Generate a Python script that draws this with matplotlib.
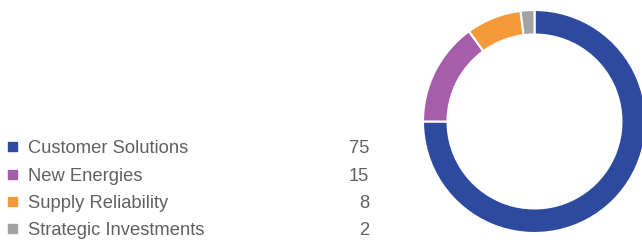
import matplotlib
matplotlib.use("Agg")
import matplotlib.pyplot as plt
from matplotlib.patches import Rectangle

categories = ["Customer Solutions", "New Energies", "Supply Reliability", "Strategic Investments"]
values = [75, 15, 8, 2]
colors = ["#2D4A9E", "#A65DAA", "#F49A3A", "#A2A2A2"]

W, H = 642, 240
fig = plt.figure(figsize=(W / 100, H / 100), dpi=100)
plt.rcParams['font.family'] = ['Liberation Sans', 'DejaVu Sans']

# Donut
cx, cy, r = 534.5, 121.5, 111.5
ax = fig.add_axes([(cx - r) / W, (H - cy - r) / H, 2 * r / W, 2 * r / H])
ax.pie(values, colors=colors, startangle=90, counterclock=False,
       wedgeprops=dict(width=0.22, edgecolor="white", linewidth=1.5))
ax.set_xlim(-1, 1)
ax.set_ylim(-1, 1)
ax.set_aspect("auto")
ax.axis("off")

# Legend table
rows_y = [146, 174, 201.5, 228.5]
for name, val, col, y in zip(categories, values, colors, rows_y):
    fig.add_artist(Rectangle((8.3 / W, 1 - (y + 4.5) / H), 9 / W, 9 / H,
                             transform=fig.transFigure, color=col))
    base = 1 - (y + 6.6) / H
    fig.text(28 / W, base, name, fontsize=13.2, color="#606060",
             va="baseline", ha="left")
    fig.text(369 / W, base, str(val), fontsize=13.2, color="#606060",
             va="baseline", ha="right")

fig.savefig("out.png", dpi=100)
